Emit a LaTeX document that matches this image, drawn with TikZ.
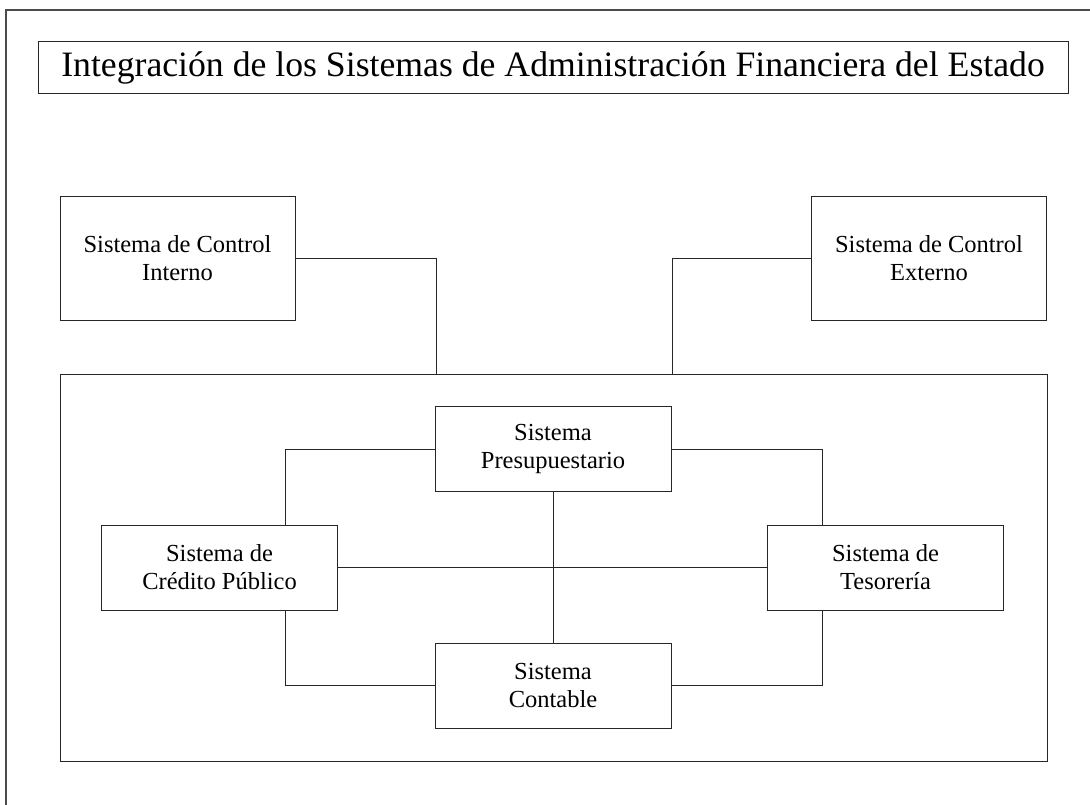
\documentclass[tikz,border=0pt]{standalone}
\usepackage{fontspec}
\setmainfont{Liberation Serif}
\usetikzlibrary{positioning, calc}

\begin{document}
\begin{tikzpicture}[
        x=1pt, y=-1pt,
        caja/.style={draw=black!85, line width=1pt, outer sep=0pt, inner sep=4pt,
            align=center, font=\fontsize{24.5}{28}\selectfont},
        chica/.style={caja, minimum width=236pt, minimum height=85pt},
        grande/.style={caja, minimum width=235pt, minimum height=123pt},
        linea/.style={black!85, line width=1pt}
    ]

    \useasboundingbox (0,0) rectangle (1090,805);

    % Marco exterior
    \draw[black!70, line width=1.5pt] (6,805) -- (6,10) -- (1090,10);

    % Titulo
    \node[caja, minimum width=1030pt, minimum height=52pt,
        font=\fontsize{35.7}{40}\selectfont] (titulo) at (553,68)
        {Integración de los Sistemas de Administración Financiera del Estado};

    \node[grande] (interno) at (177.5,258.5) {Sistema de Control\\Interno};
    \node[grande] (externo) at (929,258.5) {Sistema de Control\\Externo};

    \node[caja, minimum width=987pt, minimum height=387pt] (marco) at (553.5,567.5) {};

    \node[chica] (presu) at (553,449) {Sistema\\Presupuestario};
    \node[chica] (contable) at (553,685.5) {Sistema\\Contable};
    \node[chica] (credito) at (219.5,567.5) {Sistema de\\Crédito Público};
    \node[chica] (tesoro) at (885.5,567.5) {Sistema de\\Tesorería};

    % Conexiones de control
    \coordinate (jInt) at (436,374);
    \coordinate (jExt) at (672,374);
    \draw[linea] (interno.east) -| (jInt);
    \draw[linea] (externo.west) -| (jExt);

    % Conexiones internas
    \draw[linea] (presu.south) -- (contable.north);
    \draw[linea] (credito.east) -- (tesoro.west);
    \draw[linea] (presu.west) -| ([xshift=66pt]credito.north);
    \draw[linea] (presu.east) -| ([xshift=-63.5pt]tesoro.north);
    \draw[linea] (contable.west) -| ([xshift=66pt]credito.south);
    \draw[linea] (contable.east) -| ([xshift=-63.5pt]tesoro.south);

\end{tikzpicture}
\end{document}
